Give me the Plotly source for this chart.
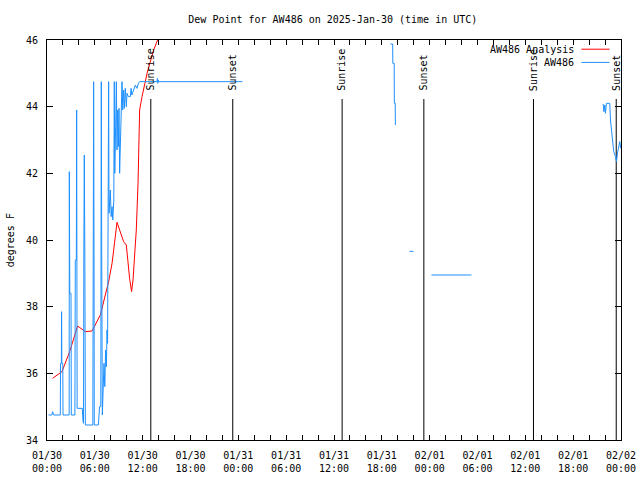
import pandas as pd
import plotly.graph_objects as go

START = pd.Timestamp("2025-01-30 00:00")
END = pd.Timestamp("2025-02-02 00:00")

# Analysis (red) : hours since 01/30 00:00 UTC, dew point F
analysis_hours = [0.70, 1.88, 2.84, 3.84, 4.81, 5.65, 6.69, 7.73, 8.16, 8.44, 8.78,
                  9.61, 9.95, 10.36, 10.61, 10.79, 11.20, 11.42, 11.62, 11.92, 12.55,
                  13.38, 13.80, 14.20]
analysis_vals = [35.85, 36.05, 36.65, 37.42, 37.25, 37.27, 37.75, 38.75, 39.3, 39.9, 40.53,
                 39.95, 39.85, 38.85, 38.45, 38.8, 40.3, 41.7, 43.9, 44.3, 45.0,
                 45.7, 45.95, 46.2]

# Observations (blue), in segments separated by data gaps
obs_seg1_hours = [0.20, 0.60, 0.70, 0.85, 1.67, 1.70, 1.80, 1.83, 1.86, 1.98, 2.01, 2.78,
                  2.80, 2.86, 3.01, 3.05, 3.50, 3.55, 3.68, 3.72, 3.78, 4.43, 4.50, 4.58,
                  4.62, 4.68, 4.75, 4.81, 5.75, 5.80, 5.85, 5.90, 5.93, 6.44, 6.50, 6.60,
                  6.75, 6.81, 6.86, 6.94, 7.05, 7.15, 7.25, 7.35, 7.45, 7.53, 7.60, 7.70,
                  7.73, 7.78, 7.85, 7.94, 8.05, 8.16, 8.25, 8.38, 8.44, 8.50, 8.61, 8.70,
                  8.78, 8.86, 8.95, 9.03, 9.11, 9.20, 9.28, 9.41, 9.50, 9.61, 9.70, 9.82,
                  9.95, 10.04, 10.20, 10.45, 10.55, 10.64, 10.87, 11.08, 11.29, 11.46,
                  11.62, 13.80, 13.85, 13.90, 13.95, 14.00, 24.51]
obs_seg1_vals = [34.75, 34.75, 34.85, 34.75, 34.75, 36.3, 36.3, 37.85, 36.3, 36.3, 34.75, 34.75,
                 42.05, 38.4, 38.4, 34.75, 34.75, 39.4, 39.4, 43.9, 34.95, 34.95, 34.6, 34.5,
                 39.4, 42.55, 39.4, 34.45, 34.45, 39.65, 44.75, 39.65, 34.45, 34.45, 34.7, 35.0,
                 35.0, 44.75, 39.9, 34.75, 35.65, 36.3, 35.6, 36.7, 36.2, 37.3, 36.9, 41.3,
                 44.75, 40.8, 41.3, 41.5, 40.7, 41.0, 40.6, 41.2, 44.75, 42.0, 43.4, 44.75,
                 42.7, 43.9, 42.8, 43.95, 42.0, 42.8, 44.3, 44.75, 43.9, 44.5, 43.95, 44.55,
                 44.0, 44.4, 44.3, 44.3, 44.55, 44.35, 44.5, 44.65, 44.55, 44.7,
                 44.75, 44.75, 44.85, 44.7, 44.8, 44.75, 44.75]
obs_seg2_hours = [43.07, 43.36, 43.38, 43.55, 43.57, 43.68, 43.70]
obs_seg2_vals = [45.88, 45.88, 45.3, 45.3, 44.1, 44.1, 43.45]
obs_seg3_hours = [45.46, 45.96]
obs_seg3_vals = [39.66, 39.66]
obs_seg4_hours = [48.22, 53.24]
obs_seg4_vals = [38.95, 38.95]
obs_seg5_hours = [69.76, 69.86, 69.96, 70.05, 70.17, 70.59, 70.68, 70.89, 71.09, 71.31,
                  71.43, 71.56, 71.72, 71.84, 71.97]
obs_seg5_vals = [44.08, 43.85, 44.05, 43.8, 44.1, 44.1, 43.6, 43.0, 42.65, 42.5,
                 42.35, 42.6, 42.8, 42.95, 42.75]

sun_event_hours = [13.02, 23.30, 37.02, 47.27, 61.02, 71.40]
sun_event_names = ["Sunrise", "Sunset", "Sunrise", "Sunset", "Sunrise", "Sunset"]

y_ticks = [34, 36, 38, 40, 42, 44, 46]

FONT = "DejaVu Sans Mono"
FS = 10
RED = "#ff0000"
BLUE = "#1e90ff"


def to_time(hours):
    return list(START + pd.to_timedelta(hours, unit="h"))


obs_x, obs_y = [], []
for hs, vs in [(obs_seg1_hours, obs_seg1_vals), (obs_seg2_hours, obs_seg2_vals),
               (obs_seg3_hours, obs_seg3_vals), (obs_seg4_hours, obs_seg4_vals),
               (obs_seg5_hours, obs_seg5_vals)]:
    obs_x += to_time(hs) + [None]
    obs_y += vs + [None]

fig = go.Figure()

# sunrise / sunset lines
for h in sun_event_hours:
    t = START + pd.Timedelta(hours=h)
    fig.add_trace(go.Scatter(x=[t, t], y=[34, 44.23], mode="lines",
                             line=dict(color="black", width=1), hoverinfo="skip",
                             showlegend=False))

fig.add_trace(go.Scatter(x=to_time(analysis_hours), y=analysis_vals, mode="lines",
                         line=dict(color=RED, width=1), name="AW486 Analysis",
                         showlegend=False))
fig.add_trace(go.Scatter(x=obs_x, y=obs_y, mode="lines", connectgaps=False,
                         line=dict(color=BLUE, width=1), name="AW486",
                         showlegend=False))

annotations = []
for h, name in zip(sun_event_hours, sun_event_names):
    annotations.append(dict(x=START + pd.Timedelta(hours=h), y=44.42, xref="x", yref="y",
                            text=name, textangle=-90, showarrow=False,
                            xanchor="center", yanchor="bottom",
                            font=dict(family=FONT, size=FS, color="black")))

# legend (gnuplot style: text then line sample)
legend_items = [("AW486 Analysis", RED, 0.977), ("AW486", BLUE, 0.944)]
shapes = []
for text, col, yp in legend_items:
    annotations.append(dict(x=0.921, y=yp, xref="paper", yref="paper", text=text,
                            showarrow=False, xanchor="right", yanchor="middle",
                            font=dict(family=FONT, size=FS, color="black")))
    shapes.append(dict(type="line", xref="paper", yref="paper", x0=0.931, x1=0.980,
                       y0=yp, y1=yp, line=dict(color=col, width=1)))

annotations.append(dict(x=-0.064, y=0.5, xref="paper", yref="paper", text="degrees F",
                        textangle=-90, showarrow=False, xanchor="center", yanchor="middle",
                        font=dict(family=FONT, size=FS, color="black")))

tick_times = pd.date_range(START, END, freq="2h")
tick_text = [t.strftime("%m/%d<br>%H:%M") if t.hour % 6 == 0 else "" for t in tick_times]

fig.update_layout(
    width=640, height=480,
    margin=dict(l=47, r=19, t=40, b=40),
    paper_bgcolor="white", plot_bgcolor="white",
    title=dict(text="Dew Point for AW486 on 2025-Jan-30 (time in UTC)", x=0.52, xanchor="center",
               y=0.96, yanchor="middle", font=dict(family=FONT, size=FS, color="black")),
    font=dict(family=FONT, size=FS, color="black"),
    annotations=annotations, shapes=shapes,
    showlegend=False,
)
fig.update_xaxes(range=[START, END], tickvals=list(tick_times), ticktext=tick_text,
                 ticks="inside", ticklen=5, tickcolor="black", showline=True,
                 linecolor="black", linewidth=1, mirror="ticks", showgrid=False,
                 zeroline=False, automargin=False, ticklabelstandoff=6,
                 tickfont=dict(family=FONT, size=FS, color="black"))
fig.update_yaxes(range=[34, 46], tickvals=y_ticks, ticks="inside", ticklen=6,
                 tickcolor="black", showline=True, linecolor="black", linewidth=1,
                 mirror="ticks", showgrid=False, zeroline=False, ticklabelstandoff=6,
                 automargin=False,
                 tickfont=dict(family=FONT, size=FS, color="black"))

fig.write_html("out.html")
